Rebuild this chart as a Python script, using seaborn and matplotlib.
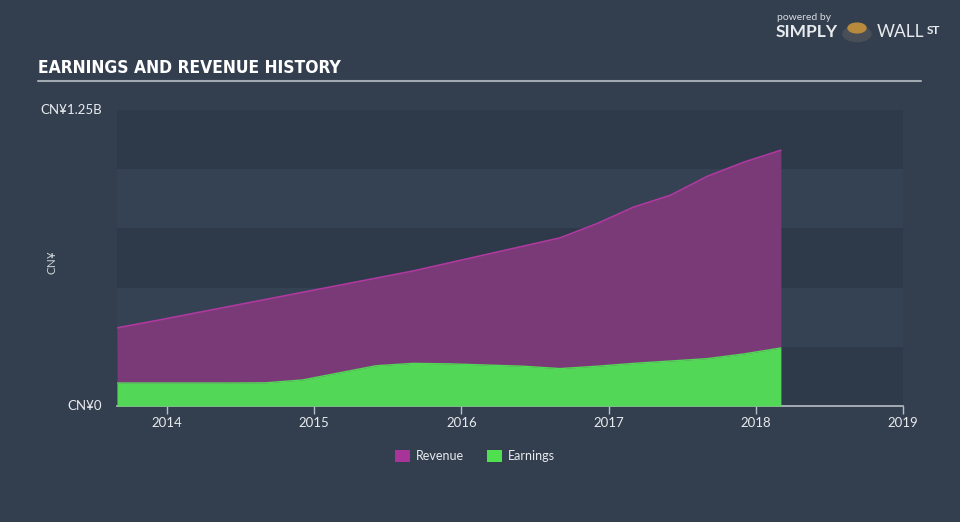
import matplotlib
matplotlib.use("Agg")
import matplotlib.pyplot as plt
from matplotlib import font_manager
import seaborn as sns
import pandas as pd
from matplotlib.patches import Patch

# ---- data (CN¥ billions) ----
dates = [2013.66, 2013.92, 2014.17, 2014.42, 2014.67, 2014.92, 2015.17, 2015.42,
         2015.67, 2015.92, 2016.17, 2016.42, 2016.67, 2016.92, 2017.17, 2017.42,
         2017.67, 2017.92, 2018.17]
revenue = [0.33, 0.36, 0.39, 0.42, 0.45, 0.48, 0.51, 0.54, 0.57, 0.605, 0.64,
           0.675, 0.71, 0.77, 0.84, 0.89, 0.97, 1.03, 1.08]
earnings = [0.097, 0.097, 0.097, 0.097, 0.098, 0.11, 0.14, 0.17, 0.18, 0.178,
            0.173, 0.168, 0.158, 0.168, 0.18, 0.19, 0.20, 0.22, 0.245]
year_ticks = [2014, 2015, 2016, 2017, 2018, 2019]
y_tick_vals = [0, 1.25]
y_tick_labels = ["CN¥0", "CN¥1.25B"]

BG = "#333f4f"
BAND_DARK = "#2e3a49"
BAND_LIGHT = "#344253"
REV_FILL = "#7a3a77"
REV_LINE = "#b0399f"
EARN_FILL = "#52d756"
TXT = "#e8eaed"

sns.set_theme(style="dark")
plt.rcParams['font.family'] = ['Lato', 'DejaVu Sans']

# find a condensed bold font for the title if available
title_fp = None
cands = []
for f in font_manager.fontManager.ttflist:
    nm = f.name.lower()
    st = str(f.stretch).lower()
    bold = str(f.weight) in ("bold", "700", "heavy", "800", "black", "900") or \
        (isinstance(f.weight, int) and f.weight >= 700)
    if ("narrow" in nm or "condensed" in nm or "condensed" in st or "narrow" in st) and bold:
        cands.append(f)
if cands:
    pref = sorted(cands, key=lambda f: (0 if "liberation" in f.name.lower() else 1))
    title_fp = font_manager.FontProperties(fname=pref[0].fname, size=12.5)

df = pd.DataFrame({"date": dates, "Revenue": revenue, "Earnings": earnings})

fig = plt.figure(figsize=(9.6, 5.22), dpi=100, facecolor=BG)
ax = fig.add_axes([117/960, 1-406/522, 786/960, 296/522])
ax.set_facecolor(BG)

for i in range(5):
    ax.axhspan(i*0.25, (i+1)*0.25, color=BAND_DARK if i % 2 == 0 else BAND_LIGHT,
               lw=0, zorder=0)

ax.fill_between(df["date"], df["Revenue"], 0, color=REV_FILL, lw=0, zorder=1)
sns.lineplot(data=df, x="date", y="Revenue", ax=ax, color=REV_LINE, lw=1.2, zorder=2)
ax.fill_between(df["date"], df["Earnings"], 0, color=EARN_FILL, lw=0, zorder=3)
sns.lineplot(data=df, x="date", y="Earnings", ax=ax, color=EARN_FILL, lw=1.0, zorder=4)

ax.set_xlim(2013.66, 2019.0)
ax.set_ylim(0, 1.25)
ax.set_xticks(year_ticks)
ax.set_xticklabels([str(y) for y in year_ticks], color=TXT, fontsize=9.5)
ax.set_yticks([])
ax.set_xlabel("")
ax.set_ylabel("")
for s in ["top", "right", "left"]:
    ax.spines[s].set_visible(False)
ax.spines["bottom"].set_color("#b8bec6")
ax.spines["bottom"].set_linewidth(1.2)
ax.tick_params(axis="x", colors="#b8bec6", length=6, width=1, pad=2, labelcolor=TXT,
               bottom=True)
ax.grid(False)

for v, lab in zip(y_tick_vals, y_tick_labels):
    fig.text(102/960, 1-(406 - v*236.8)/522, lab, ha="right", va="center",
             color=TXT, fontsize=9.5)
fig.text(52/960, 1-262/522, "CN¥", rotation=90, ha="center", va="center",
         color="#d0d4da", fontsize=8.5)

if title_fp is not None:
    fig.text(38/960, 1-68/522, "EARNINGS AND REVENUE HISTORY", ha="left", va="center",
             color="white", fontproperties=title_fp)
else:
    fig.text(38/960, 1-68/522, "EARNINGS AND REVENUE HISTORY", ha="left", va="center",
             color="white", fontsize=10.5, fontweight="bold",
             family=['Roboto', 'DejaVu Sans'])
fig.add_artist(plt.Line2D([38/960, 921/960], [1-81/522, 1-81/522],
                          color="#a3a9b1", lw=1.5, transform=fig.transFigure))

# logo
fig.text(777/960, 1-18/522, "powered by", ha="left", va="center", color="#d8dbe0", fontsize=7.5)
fig.text(776/960, 1-32/522, "SIMPLY", ha="left", va="center", color="#e8eaed",
         fontsize=12.5, fontweight="bold")
fig.text(877/960, 1-32/522, "WALL", ha="left", va="center", color="#e8eaed", fontsize=12.5)
fig.text(927/960, 1-30/522, "ST", ha="left", va="center", color="#e8eaed",
         fontsize=8.5, fontweight="bold")
fig.add_artist(plt.Circle((857/960, 1-34/522), 14/960, transform=fig.transFigure,
                          color="#4a4f57", zorder=5))
fig.add_artist(plt.Circle((857/960, 1-28/522), 9/960, transform=fig.transFigure,
                          color="#b88a3c", zorder=6))

handles = [Patch(facecolor="#a8349a", edgecolor="none", label="Revenue"),
           Patch(facecolor="#4fe04f", edgecolor="none", label="Earnings")]
leg = fig.legend(handles=handles, loc="center", bbox_to_anchor=(475/960, 1-456/522),
                 ncol=2, frameon=False, fontsize=9, handlelength=1.2, handleheight=1.2,
                 columnspacing=1.8, handletextpad=0.5)
for t in leg.get_texts():
    t.set_color(TXT)

fig.savefig("out.png", dpi=100, facecolor=BG)
